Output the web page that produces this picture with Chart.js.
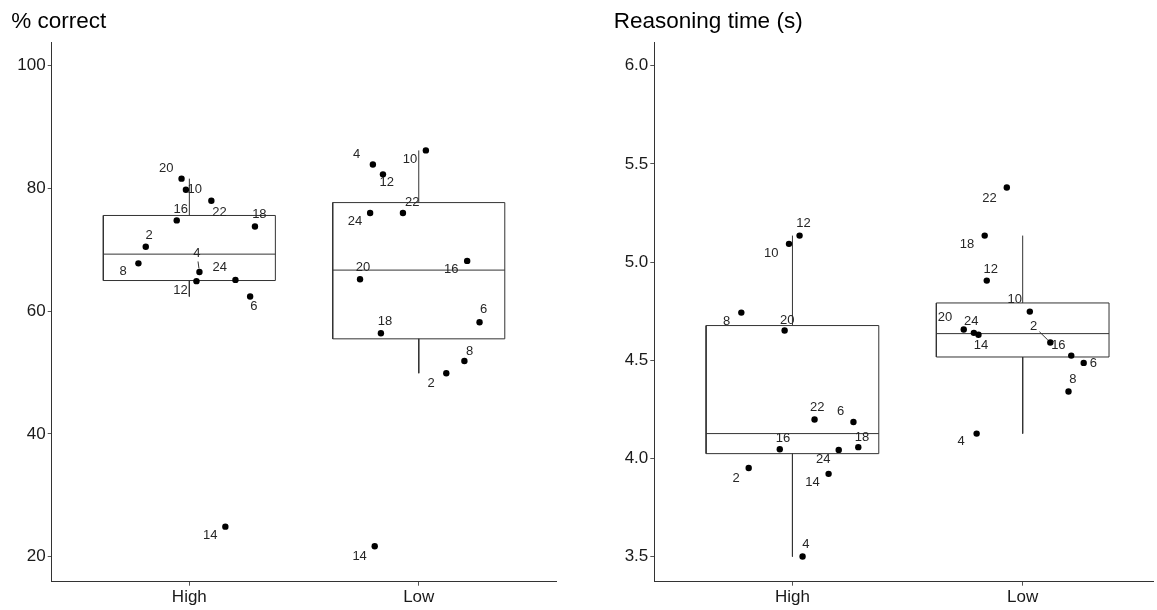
<!DOCTYPE html>
<html>
<head>
<meta charset="utf-8">
<script src="https://cdn.jsdelivr.net/npm/chart.js@4.4.0/dist/chart.umd.min.js"></script>
<style>
  html, body { margin: 0; padding: 0; background: #fff; overflow: hidden; }
  #wrap { position: relative; width: 1157px; height: 610px; }
  .panel { position: absolute; top: 0; height: 610px; }
  #left-panel { left: 0; width: 580px; }
  #right-panel { left: 580px; width: 577px; }
</style>
</head>
<body>
<div id="wrap">
  <div class="panel" id="left-panel"><canvas id="plot-correct" width="580" height="610"></canvas></div>
  <div class="panel" id="right-panel"><canvas id="plot-time" width="577" height="610"></canvas></div>
</div>
<script>
// categories on the x axis
var groups = ["High", "Low"];
// participant ids, same order in every series below
var participants = [2, 4, 6, 8, 10, 12, 14, 16, 18, 20, 22, 24];

// % correct per participant
var correctHigh = [70.5, 66.4, 62.4, 67.8, 79.8, 64.9, 24.9, 74.8, 73.8, 81.6, 78.0, 65.1];
var correctLow  = [49.9, 83.9, 58.2, 51.9, 86.2, 82.3, 21.7, 68.2, 56.4, 65.2, 76.0, 76.0];
// reasoning time (s) per participant
var timeHigh = [3.952, 3.501, 4.186, 4.743, 5.093, 5.135, 3.922, 4.047, 4.058, 4.652, 4.199, 4.044];
var timeLow  = [4.591, 4.127, 4.487, 4.341, 4.748, 4.906, 4.630, 4.524, 5.135, 4.657, 5.380, 4.640];

// horizontal jitter of each point (in category units)
var jitterHigh = [-0.19, 0.044, 0.265, -0.222, -0.015, 0.031, 0.157, -0.055, 0.286, -0.034, 0.096, 0.201];
var jitterLow  = [0.12, -0.2, 0.265, 0.199, 0.031, -0.156, -0.192, 0.211, -0.165, -0.256, -0.069, -0.212];

// box stats: [lower whisker, q1, median, q3, upper whisker]
var correctBoxHigh = [62.4, 65.0, 69.3, 75.6, 81.6];
var correctBoxLow  = [49.9, 55.5, 66.7, 77.7, 86.2];
var timeBoxHigh = [3.501, 4.025, 4.127, 4.677, 5.135];
var timeBoxLow  = [4.127, 4.517, 4.636, 4.792, 5.135];

// y tick labels
var correctTicks = [20, 40, 60, 80, 100];
var timeTicks = [3.5, 4.0, 4.5, 5.0, 5.5, 6.0];

// label placement (pixel nudge from the point, like ggrepel did it)
var nudgeCorrectHigh = [[3.3,-11],[-2.5,-18.4],[3.7,10.4],[-15.2,8.4],[8.9,0],[-15.9,9],[-15.1,8.3],[4.1,-11],[4.4,-12],[-15.2,-10],[8.1,11.7],[-15.8,-12.4]];
var nudgeCorrectLow  = [[-15.1,10],[-16.3,-10.3],[4.1,-13.3],[5.2,-9.3],[-15.9,9],[3.7,8.3],[-15.1,9.7],[-15.9,9],[4.1,-12],[3,-12],[9.2,-10.7],[-15.1,8.7]];
var nudgeTimeHigh = [[-12.5,10.3],[3.3,-12],[-12.9,-10.7],[-14.7,9.3],[-17.7,10],[4,-12],[-16.2,8.3],[3.3,-11.3],[3.7,-9.3],[2.6,-10.3],[2.6,-12.3],[-15.5,9.7]];
var nudgeTimeLow  = [[-16.6,-16.3],[-15.5,7.7],[9.6,0.7],[4.4,-12.3],[-15.1,-12],[4,-11.3],[2.6,10.3],[-12.9,-10.3],[-17.7,9.3],[-18.8,-12],[-17.3,11],[-2.6,-11]];

var font_family = "'Liberation Sans', Arial, Helvetica, sans-serif";
var box_half = 0.375;
var line_col = "#333333";

// draws the participant id next to each point
var point_labels_plugin = {
  id: "pointLabels",
  afterDatasetsDraw: function(chart, args, opts) {
    var ctx = chart.ctx;
    var meta = chart.getDatasetMeta(0);
    ctx.save();
    ctx.font = "13px " + font_family;
    ctx.fillStyle = "#262626";
    ctx.textAlign = "center";
    ctx.textBaseline = "middle";
    for (var i = 0; i < meta.data.length; i++) {
      var pt = meta.data[i];
      var off = opts.nudges[i];
      var lx = pt.x + off[0];
      var ly = pt.y + off[1];
      ctx.fillText(opts.labels[i], lx, ly);
      // connector line for labels pushed far away
      if (opts.segments.indexOf(i) >= 0) {
        var vx = pt.x - lx, vy = pt.y - ly;
        var len = Math.sqrt(vx * vx + vy * vy);
        ctx.beginPath();
        ctx.strokeStyle = "#333333";
        ctx.lineWidth = 1;
        ctx.moveTo(lx + vx / len * 8, ly + vy / len * 8);
        ctx.lineTo(pt.x - vx / len * 3.5, pt.y - vy / len * 3.5);
        ctx.stroke();
      }
    }
    ctx.restore();
  }
};

// panel title, sits above the y axis
var panel_title_plugin = {
  id: "panelTitle",
  afterDraw: function(chart, args, opts) {
    var ctx = chart.ctx;
    ctx.save();
    ctx.font = "22.5px " + font_family;
    ctx.fillStyle = "#000";
    ctx.textAlign = "left";
    ctx.textBaseline = "middle";
    ctx.fillText(opts.text, chart.chartArea.left - 40.5, 22);
    ctx.restore();
  }
};

function line_set(points) {
  return {
    type: "scatter",
    showLine: true,
    data: points,
    borderColor: line_col,
    borderWidth: 1,
    pointRadius: 0,
    fill: false
  };
}

function box_sets(center, b) {
  var l = center - box_half, r = center + box_half;
  return [
    line_set([{x: l, y: b[1]}, {x: r, y: b[1]}, {x: r, y: b[3]}, {x: l, y: b[3]}, {x: l, y: b[1]}]),
    line_set([{x: l, y: b[2]}, {x: r, y: b[2]}]),
    line_set([{x: center, y: b[3]}, {x: center, y: b[4]}]),
    line_set([{x: center, y: b[1]}, {x: center, y: b[0]}])
  ];
}

function make_panel(canvas_id, title, high, low, boxHigh, boxLow, yMin, yMax, yTicks, decimals, xMax, yWidth, rightPad, nudges, segments) {
  var pts = [];
  var labels = [];
  for (var i = 0; i < participants.length; i++) {
    pts.push({x: 1 + jitterHigh[i], y: high[i]});
    labels.push(String(participants[i]));
  }
  for (var j = 0; j < participants.length; j++) {
    pts.push({x: 2 + jitterLow[j], y: low[j]});
    labels.push(String(participants[j]));
  }

  var datasets = [{
    type: "scatter",
    data: pts,
    pointRadius: 3.2,
    pointBackgroundColor: "#000",
    pointBorderWidth: 0
  }];
  datasets = datasets.concat(box_sets(1, boxHigh), box_sets(2, boxLow));

  return new Chart(canvas_id, {
    type: "scatter",
    data: {datasets: datasets},
    plugins: [point_labels_plugin, panel_title_plugin],
    options: {
      responsive: false,
      animation: false,
      events: [],
      layout: {padding: {left: 0, top: 42.7, right: rightPad, bottom: 0}},
      plugins: {
        legend: {display: false},
        tooltip: {enabled: false},
        pointLabels: {labels: labels, nudges: nudges, segments: segments},
        panelTitle: {text: title}
      },
      scales: {
        x: {
          type: "linear",
          min: 0.4,
          max: xMax,
          grid: {drawOnChartArea: false, drawTicks: true, tickLength: 4, color: "#555"},
          border: {display: true, color: line_col, width: 1},
          ticks: {
            font: {size: 17, family: font_family},
            color: "#1a1a1a",
            padding: 1,
            callback: function(v) { return groups[v - 1]; }
          },
          afterBuildTicks: function(s) { s.ticks = [{value: 1}, {value: 2}]; },
          afterFit: function(s) { s.height = 28.3; }
        },
        y: {
          type: "linear",
          min: yMin,
          max: yMax,
          grid: {drawOnChartArea: false, drawTicks: true, tickLength: 4, color: "#555"},
          border: {display: true, color: line_col, width: 1},
          ticks: {
            font: {size: 17, family: font_family},
            color: "#1a1a1a",
            padding: 2,
            callback: function(v) { return v.toFixed(decimals); }
          },
          afterBuildTicks: function(s) { s.ticks = yTicks.map(function(v) { return {value: v}; }); },
          afterFit: function(s) { s.width = yWidth; }
        }
      }
    }
  });
}

function setup() {
  make_panel("plot-correct", "% correct", correctHigh, correctLow, correctBoxHigh, correctBoxLow,
    15.93, 103.75, correctTicks, 0, 2.6, 51.7, 23.6, nudgeCorrectHigh.concat(nudgeCorrectLow), [1]);
  make_panel("plot-time", "Reasoning time (s)", timeHigh, timeLow, timeBoxHigh, timeBoxLow,
    3.373, 6.117, timeTicks, 1, 2.566, 74.3, 0, nudgeTimeHigh.concat(nudgeTimeLow), [12]);
}

document.addEventListener("DOMContentLoaded", setup);
</script>
</body>
</html>
